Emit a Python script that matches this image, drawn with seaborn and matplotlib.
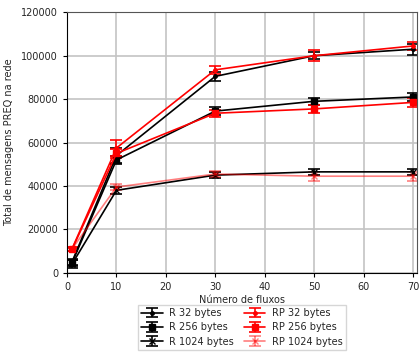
import numpy as np
import seaborn as sns
import matplotlib
matplotlib.use("Agg")
import matplotlib.pyplot as plt

# data
fluxos = [1, 10, 30, 50, 70]

r_32 = [5000, 54000, 90500, 100000, 103000]
r_32_err = [1500, 3500, 2000, 1500, 2500]
r_256 = [4500, 52000, 74500, 79000, 81000]
r_256_err = [1500, 2000, 2000, 1500, 1800]
r_1024 = [4000, 38000, 45000, 46500, 46500]
r_1024_err = [2000, 1500, 1500, 1500, 1500]

rp_32 = [11000, 57500, 93500, 100000, 104500]
rp_32_err = [1000, 3500, 2000, 2500, 2000]
rp_256 = [10800, 55000, 73500, 75500, 78500]
rp_256_err = [800, 2000, 1500, 2000, 2000]
rp_1024 = [11000, 39500, 45500, 44500, 44500]
rp_1024_err = [800, 1500, 1500, 2000, 2000]

series = [
    ("R 32 bytes", r_32, r_32_err, "black", ".", 1.0),
    ("R 256 bytes", r_256, r_256_err, "black", "s", 1.0),
    ("R 1024 bytes", r_1024, r_1024_err, "black", "x", 1.0),
    ("RP 32 bytes", rp_32, rp_32_err, "red", ".", 1.0),
    ("RP 256 bytes", rp_256, rp_256_err, "red", "s", 1.0),
    ("RP 1024 bytes", rp_1024, rp_1024_err, "red", "x", 0.5),
]

sns.set_style("ticks")
plt.rcParams["font.family"] = ["DejaVu Sans"]
plt.rcParams["font.size"] = 7

fig, ax = plt.subplots(figsize=(4.19, 3.52), dpi=100)
fig.subplots_adjust(left=0.16, right=0.995, top=0.965, bottom=0.225)

for label, vals, errs, color, marker, alpha in series:
    ax.errorbar(fluxos, vals, yerr=errs, color=color, marker=marker,
                markersize=5, linewidth=1.2,
                capsize=4, elinewidth=1.2, capthick=1.2,
                alpha=alpha, label=label)

ax.set_xlim(0, 70.8)
ax.set_ylim(0, 120000)
ax.set_xticks([0, 10, 20, 30, 40, 50, 60, 70])
ax.set_yticks(range(0, 120001, 20000))
ax.grid(True, color="#c4c4c4", linewidth=1.2)
ax.set_axisbelow(True)
for side in ["top", "right"]:
    ax.spines[side].set_color("#555555")
for side in ["left", "bottom"]:
    ax.spines[side].set_color("black")
ax.tick_params(labelsize=7, length=3, color="black")

ax.set_xlabel("Número de fluxos", fontsize=7, labelpad=2)
ax.set_ylabel("Total de mensagens PREQ na rede", fontsize=7, labelpad=5)

ax.legend(loc="upper center", bbox_to_anchor=(0.5, -0.105), ncol=2,
          fontsize=7, frameon=True, fancybox=False, edgecolor="#cccccc",
          handlelength=2.2, columnspacing=1.0, borderpad=0.3,
          labelspacing=0.45, handletextpad=0.7)

fig.savefig("out.png", dpi=100)
